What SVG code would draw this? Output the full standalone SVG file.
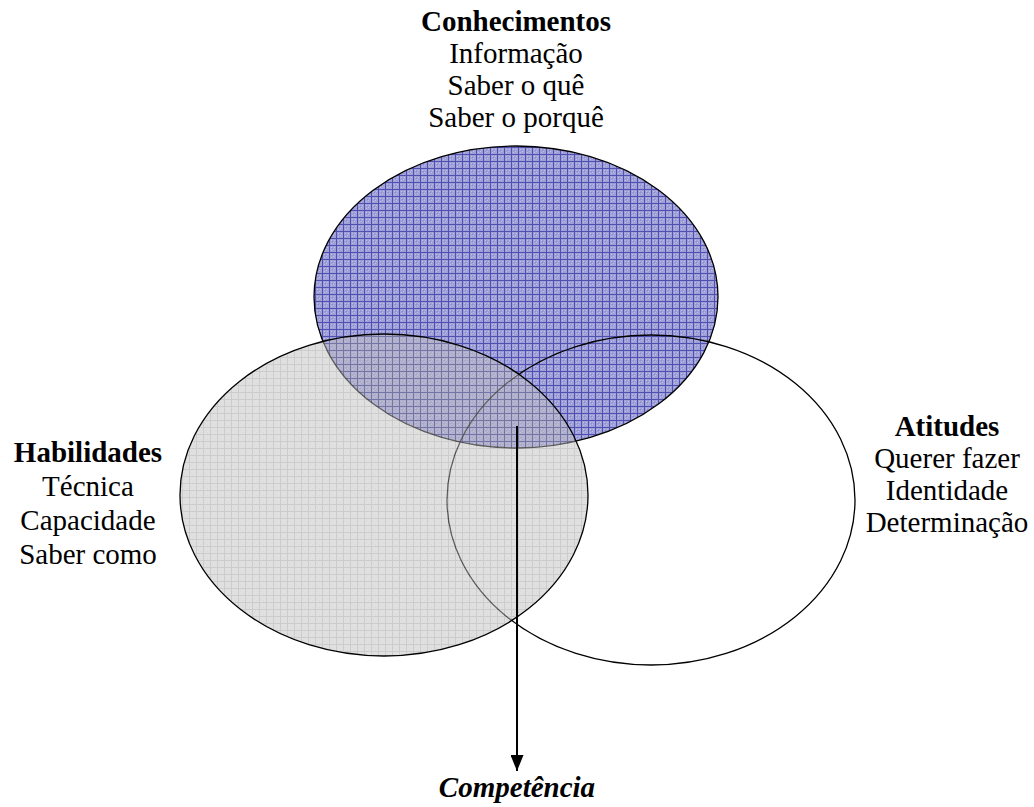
<svg xmlns="http://www.w3.org/2000/svg" width="1034" height="807" viewBox="0 0 1034 807">
  <style>
    .lbl { font-family: "Liberation Serif", "Times New Roman", serif; font-size: 29px; fill: #000; text-anchor: middle; }
    .ttl { font-weight: bold; }
    .out { stroke: #000; stroke-width: 1.3; }
  </style>
  <defs>
    <!-- blue hatched grid -->
    <pattern id="gridBlue" width="7" height="7" patternUnits="userSpaceOnUse">
      <rect width="7" height="7" fill="#a0a0d8"/>
      <rect x="2" y="2" width="1" height="1" fill="#bcbce8"/>
      <rect x="4" y="4" width="1" height="1" fill="#bcbce8"/>
      <rect x="2" y="5" width="1" height="1" fill="#bcbce8"/>
      <rect x="5" y="2" width="1" height="1" fill="#bcbce8"/>
      <rect x="3" y="3" width="1" height="1" fill="#8c8cca"/>
      <rect x="0" y="0" width="7" height="1" fill="#5050b0"/>
      <rect x="0" y="0" width="1" height="7" fill="#5050b0"/>
    </pattern>
    <!-- gray grid, laid semi-transparent over the others -->
    <pattern id="gridGray" width="7" height="7" patternUnits="userSpaceOnUse">
      <rect width="7" height="7" fill="#c2c2c2"/>
      <rect x="2" y="3" width="1" height="1" fill="#b4b4b4"/>
      <rect x="4" y="5" width="1" height="1" fill="#b4b4b4"/>
      <rect x="0" y="0" width="7" height="1" fill="#9a9a9a"/>
      <rect x="0" y="0" width="1" height="7" fill="#9a9a9a"/>
    </pattern>
    <marker id="arrowHead" viewBox="0 0 10 10" refX="10" refY="5" markerWidth="16" markerHeight="13" markerUnits="userSpaceOnUse" orient="auto" preserveAspectRatio="none">
      <path d="M0,0 L10,5 L0,10 Z" fill="#000"/>
    </marker>
  </defs>

  <g id="conhecimentos">
    <ellipse class="out" cx="516" cy="297" rx="202" ry="151" fill="url(#gridBlue)"/>
    <text class="lbl ttl" x="516" y="31">Conhecimentos</text>
    <text class="lbl" x="516" y="63">Informação</text>
    <text class="lbl" x="516" y="95">Saber o quê</text>
    <text class="lbl" x="516" y="127">Saber o porquê</text>
  </g>

  <g id="atitudes">
    <ellipse class="out" cx="651" cy="500" rx="204" ry="165" fill="none"/>
    <text class="lbl ttl" x="947" y="436">Atitudes</text>
    <text class="lbl" x="947" y="468">Querer fazer</text>
    <text class="lbl" x="947" y="500">Identidade</text>
    <text class="lbl" x="947" y="532">Determinação</text>
  </g>

  <g id="habilidades">
    <ellipse class="out" cx="384" cy="495" rx="204" ry="161" fill="url(#gridGray)" fill-opacity="0.5"/>
    <text class="lbl ttl" x="88" y="462">Habilidades</text>
    <text class="lbl" x="88" y="496">Técnica</text>
    <text class="lbl" x="88" y="530">Capacidade</text>
    <text class="lbl" x="88" y="564">Saber como</text>
  </g>

  <g id="connectors">
    <line x1="517" y1="426" x2="517" y2="771" stroke="#000" stroke-width="2" marker-end="url(#arrowHead)"/>
  </g>

  <g id="competencia">
    <text class="lbl ttl" x="517" y="797" font-style="italic">Competência</text>
  </g>
</svg>
